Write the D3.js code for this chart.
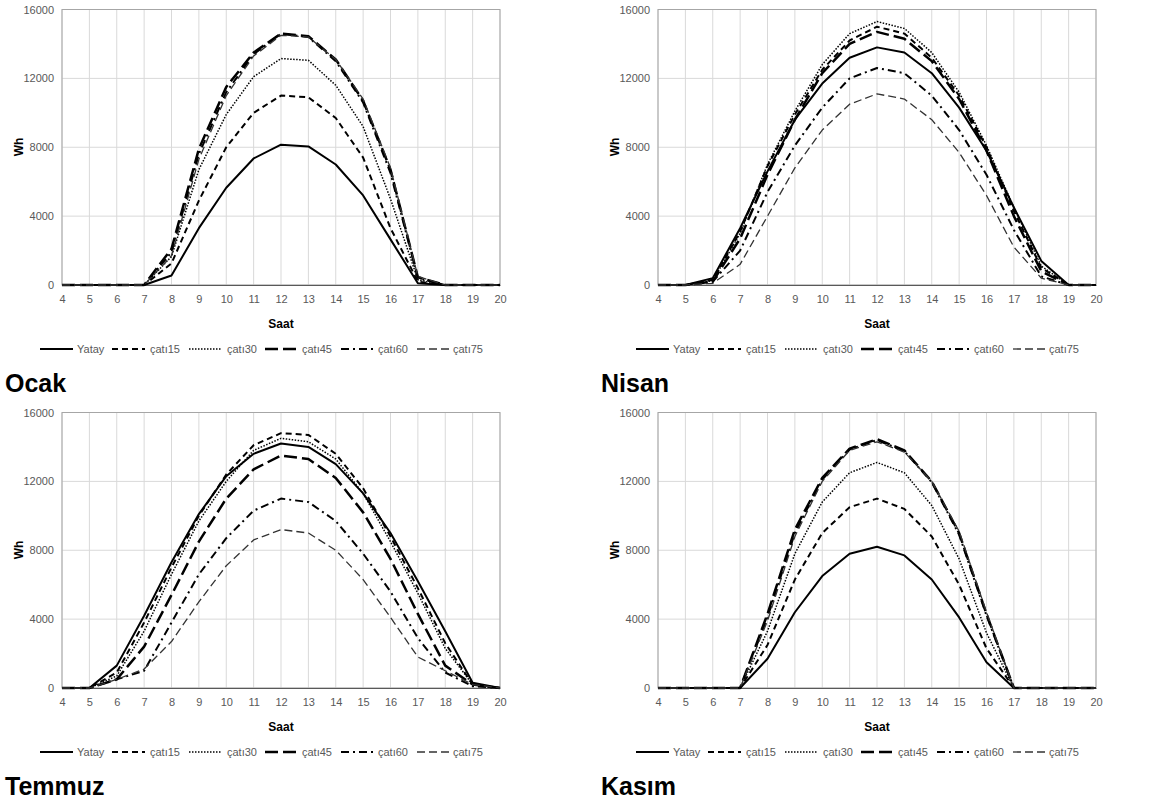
<!DOCTYPE html>
<html>
<head>
<meta charset="utf-8">
<script src="https://cdn.jsdelivr.net/npm/d3@7"></script>
<style>
  body { margin: 0; background: #fff; }
  svg { display: block; font-family: "Liberation Sans", Arial, sans-serif; }
</style>
</head>
<body>
<div id="chart"></div>
<script>
// saat ekseni
const hours = [4, 5, 6, 7, 8, 9, 10, 11, 12, 13, 14, 15, 16, 17, 18, 19, 20];
const yTicks = [0, 4000, 8000, 12000, 16000];
const seriesNames = ['Yatay', 'çatı15', 'çatı30', 'çatı45', 'çatı60', 'çatı75'];
const months = ['Ocak', 'Nisan', 'Temmuz', 'Kasım'];

// her ay: Yatay, çatı15, çatı30, çatı45, çatı60, çatı75 (Wh)
const ocak = [
    [0, 0, 0, 0, 550, 3300, 5650, 7350, 8150, 8050, 7000, 5200, 2650, 100, 0, 0, 0],
    [0, 0, 0, 0, 1250, 4900, 8000, 10000, 11000, 10900, 9700, 7400, 3300, 200, 0, 0, 0],
    [0, 0, 0, 0, 1650, 6700, 9900, 12100, 13150, 13050, 11600, 9200, 5000, 300, 0, 0, 0],
    [0, 0, 0, 0, 2100, 7900, 11500, 13500, 14600, 14450, 13100, 10700, 6700, 450, 0, 0, 0],
    [0, 0, 0, 0, 1900, 7600, 11200, 13400, 14600, 14400, 13000, 10600, 6500, 400, 0, 0, 0],
    [0, 0, 0, 0, 1700, 7300, 11000, 13300, 14500, 14400, 13100, 10800, 6800, 500, 0, 0, 0]
];
const nisan = [
    [0, 0, 400, 3300, 6600, 9600, 11700, 13200, 13800, 13500, 12300, 10300, 7800, 4500, 1400, 0, 0],
    [0, 0, 300, 3100, 6900, 9900, 12500, 14200, 15000, 14600, 13200, 11000, 8000, 4300, 1000, 0, 0],
    [0, 0, 250, 3000, 7000, 10100, 12800, 14600, 15300, 14900, 13500, 11200, 8100, 4500, 1100, 0, 0],
    [0, 0, 200, 2700, 6400, 9600, 12300, 14000, 14700, 14300, 13000, 10800, 7800, 4000, 800, 0, 0],
    [0, 0, 200, 2000, 5400, 8100, 10300, 12000, 12600, 12300, 11000, 9000, 6400, 3200, 500, 0, 0],
    [0, 0, 100, 1200, 4000, 6800, 9000, 10500, 11100, 10800, 9600, 7700, 5200, 2200, 400, 0, 0]
];
const temmuz = [
    [0, 0, 1300, 4200, 7300, 10100, 12300, 13600, 14200, 14000, 13000, 11300, 9000, 6200, 3300, 300, 0],
    [0, 0, 900, 3800, 7000, 10000, 12400, 14100, 14800, 14700, 13600, 11600, 8800, 5800, 2600, 200, 0],
    [0, 0, 700, 3300, 6600, 9700, 12000, 13800, 14500, 14300, 13300, 11300, 8500, 5500, 2300, 200, 0],
    [0, 0, 500, 2400, 5400, 8500, 11000, 12700, 13500, 13300, 12200, 10200, 7500, 4300, 1300, 200, 0],
    [0, 0, 500, 1000, 3800, 6600, 8700, 10300, 11000, 10800, 9700, 7800, 5600, 2900, 900, 100, 0],
    [0, 0, 500, 1100, 2700, 5000, 7100, 8600, 9200, 9000, 8000, 6300, 4100, 1800, 1000, 200, 0]
];
const kasim = [
    [0, 0, 0, 0, 1700, 4400, 6500, 7800, 8200, 7700, 6300, 4100, 1500, 0, 0, 0, 0],
    [0, 0, 0, 0, 2500, 6300, 9000, 10500, 11000, 10400, 8800, 6000, 2300, 0, 0, 0, 0],
    [0, 0, 0, 0, 3300, 7800, 10800, 12500, 13100, 12500, 10600, 7500, 3200, 0, 0, 0, 0],
    [0, 0, 0, 0, 4300, 9200, 12200, 13900, 14450, 13800, 12000, 9000, 4300, 0, 0, 0, 0],
    [0, 0, 0, 0, 4100, 9000, 12100, 13850, 14400, 13750, 11950, 8900, 4200, 0, 0, 0, 0],
    [0, 0, 0, 0, 3900, 8800, 12000, 13800, 14300, 13700, 12000, 9100, 4400, 0, 0, 0, 0]
];
const monthData = [ocak, nisan, temmuz, kasim];

// line styles per series
const styles = [
    { width: 2, dash: null, color: '#000' },
    { width: 2, dash: '6,4', color: '#000' },
    { width: 1.5, dash: '1.5,1.5', color: '#000' },
    { width: 2.5, dash: '13,5', color: '#000' },
    { width: 2, dash: '8,4,2,4', color: '#000' },
    { width: 1.3, dash: '8,4', color: '#333' }
];
const legendPos = [[40, 77], [112, 150], [189, 227], [265, 302], [341, 378], [417, 453]];

let width = 1170;
let height = 805;
let plotW = 438;
let plotH = 275.5;

let svg = d3.select('#chart').append('svg')
    .attr('width', width)
    .attr('height', height);

function drawPanel(i) {
    let data = monthData[i];
    let ox = (i % 2) * 596;
    let oy = Math.floor(i / 2) * 403;

    let panel = svg.append('g').attr('transform', `translate(${ox}, ${oy})`);
    let chart = panel.append('g').attr('transform', 'translate(62, 9.5)');

    let x = d3.scaleLinear().domain([4, 20]).range([0, plotW]);
    let y = d3.scaleLinear().domain([0, 16000]).range([plotH, 0]);

    // grid
    chart.append('g').selectAll('line').data(hours).enter().append('line')
        .attr('x1', d => x(d)).attr('x2', d => x(d))
        .attr('y1', 0).attr('y2', plotH)
        .attr('stroke', '#d9d9d9');
    chart.append('g').selectAll('line').data(yTicks).enter().append('line')
        .attr('x1', 0).attr('x2', plotW)
        .attr('y1', d => y(d)).attr('y2', d => y(d))
        .attr('stroke', '#d9d9d9');
    chart.append('rect')
        .attr('width', plotW).attr('height', plotH)
        .attr('fill', 'none').attr('stroke', '#a6a6a6');

    let xAxis = chart.append('g')
        .attr('transform', `translate(0, ${plotH})`)
        .call(d3.axisBottom(x).tickValues(hours).tickSize(0).tickPadding(10).tickFormat(d3.format('d')));
    xAxis.select('.domain').attr('stroke', '#595959');
    xAxis.selectAll('text').attr('fill', '#595959').style('font-size', '11px');

    let yAxis = chart.append('g')
        .call(d3.axisLeft(y).tickValues(yTicks).tickSize(0).tickPadding(8).tickFormat(d3.format('d')));
    yAxis.select('.domain').remove();
    yAxis.selectAll('text').attr('fill', '#595959').style('font-size', '11px');

    // series
    let line = d3.line()
        .x((d, j) => x(hours[j]))
        .y(d => y(d));

    chart.selectAll('path.series').data(data).enter().append('path')
        .attr('class', 'series')
        .attr('d', line)
        .attr('fill', 'none')
        .attr('stroke', (d, k) => styles[k].color)
        .attr('stroke-width', (d, k) => styles[k].width)
        .attr('stroke-dasharray', (d, k) => styles[k].dash)
        .attr('stroke-linejoin', 'round');

    // axis titles
    panel.append('text')
        .attr('transform', 'translate(23, 147) rotate(-90)')
        .attr('text-anchor', 'middle')
        .style('font-size', '12px').style('font-weight', 'bold')
        .text('Wh');
    panel.append('text')
        .attr('x', 281).attr('y', 328)
        .attr('text-anchor', 'middle')
        .style('font-size', '12px').style('font-weight', 'bold')
        .text('Saat');

    // legend
    let legend = panel.append('g').attr('transform', 'translate(0, 349)');
    seriesNames.forEach((name, k) => {
        let s = styles[k];
        legend.append('line')
            .attr('x1', legendPos[k][0]).attr('x2', legendPos[k][0] + 33)
            .attr('stroke', s.color)
            .attr('stroke-width', s.width)
            .attr('stroke-dasharray', s.dash);
        legend.append('text')
            .attr('x', legendPos[k][1]).attr('y', 4)
            .attr('fill', '#595959')
            .style('font-size', '11px')
            .text(name);
    });

    panel.append('text')
        .attr('x', 5).attr('y', 392)
        .style('font-size', '25px').style('font-weight', 'bold')
        .text(months[i]);
}

months.forEach((m, i) => drawPanel(i));
</script>
</body>
</html>
